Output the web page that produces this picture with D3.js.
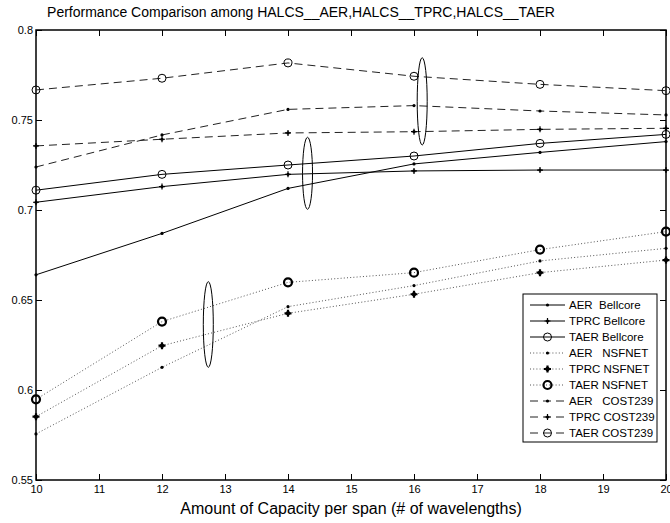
<!DOCTYPE html>
<html>
<head>
<meta charset="utf-8">
<script src="https://cdn.jsdelivr.net/npm/d3@7"></script>
<style>
  body { margin: 0; background: #fff; }
  text { font-family: "Liberation Sans", Arial, sans-serif; }
</style>
</head>
<body>
<svg id="chart" width="670" height="523"></svg>
<script>
// values
var capacity = [10, 12, 14, 16, 18, 20];
var aerBellcore  = [0.664, 0.687, 0.712, 0.7256, 0.732, 0.738];
var tprcBellcore = [0.7043, 0.713, 0.7198, 0.7217, 0.7222, 0.7222];
var taerBellcore = [0.711, 0.7198, 0.725, 0.730, 0.737, 0.742];
var aerNsfnet    = [0.5756, 0.6126, 0.6463, 0.658, 0.6717, 0.6787];
var tprcNsfnet   = [0.5852, 0.6246, 0.6426, 0.6532, 0.6652, 0.6722];
var taerNsfnet   = [0.5948, 0.638, 0.6598, 0.6652, 0.678, 0.688];
var aerCost      = [0.7239, 0.7417, 0.7559, 0.758, 0.755, 0.7528];
var tprcCost     = [0.7356, 0.7393, 0.7428, 0.7435, 0.7448, 0.7454];
var taerCost     = [0.7667, 0.7732, 0.7817, 0.7743, 0.7698, 0.7663];

var xTicks = [10, 11, 12, 13, 14, 15, 16, 17, 18, 19, 20];
var yTicks = [0.55, 0.6, 0.65, 0.7, 0.75, 0.8];
var yTickLabels = ["0.55", "0.6", "0.65", "0.7", "0.75", "0.8"];

// annotation ellipses: centre x, low y, high y (data units)
var ellipseX    = [12.735, 14.31, 16.13];
var ellipseLow  = [0.6126, 0.7004, 0.7361];
var ellipseHigh = [0.6602, 0.7404, 0.7846];

var series = [
  { name: "AER  Bellcore", values: aerBellcore,  style: "solid",  marker: "dot" },
  { name: "TPRC Bellcore", values: tprcBellcore, style: "solid",  marker: "plus" },
  { name: "TAER Bellcore", values: taerBellcore, style: "solid",  marker: "circle" },
  { name: "AER   NSFNET",  values: aerNsfnet,    style: "dotted", marker: "dot" },
  { name: "TPRC NSFNET",   values: tprcNsfnet,   style: "dotted", marker: "plusBold" },
  { name: "TAER NSFNET",   values: taerNsfnet,   style: "dotted", marker: "circleBold" },
  { name: "AER   COST239", values: aerCost,      style: "dashed", marker: "dot" },
  { name: "TPRC COST239",  values: tprcCost,     style: "dashed", marker: "plus" },
  { name: "TAER COST239",  values: taerCost,     style: "dashed", marker: "circle" }
];

var svg = d3.select("#chart");
var plotLeft = 36, plotRight = 666, plotTop = 30, plotBottom = 480;

var x = d3.scaleLinear().domain([10, 20]).range([plotLeft, plotRight]);
var y = d3.scaleLinear().domain([0.55, 0.8]).range([plotBottom, plotTop]);

// title
svg.append("text")
  .attr("x", 301).attr("y", 17)
  .attr("text-anchor", "middle")
  .attr("font-size", 14)
  .text("Performance Comparison among HALCS__AER,HALCS__TPRC,HALCS__TAER");

// axes (matlab style, ticks pointing inwards)
var tickLen = 6;
function labelFont(g) {
  g.selectAll("text").attr("font-size", 11).attr("fill", "#000")
    .attr("font-family", "Liberation Sans, Arial, sans-serif");
}
svg.append("g").attr("transform", "translate(0," + plotBottom + ")")
  .call(d3.axisBottom(x).tickValues(xTicks).tickSizeInner(-tickLen).tickSizeOuter(0).tickPadding(5).tickFormat(d3.format("d")))
  .call(labelFont);
svg.append("g").attr("transform", "translate(0," + plotTop + ")")
  .call(d3.axisTop(x).tickValues(xTicks).tickSizeInner(-tickLen).tickSizeOuter(0).tickFormat(""));
svg.append("g").attr("transform", "translate(" + plotLeft + ",0)")
  .call(d3.axisLeft(y).tickValues(yTicks).tickSizeInner(-tickLen).tickSizeOuter(0).tickPadding(3)
    .tickFormat(function (d, i) { return yTickLabels[i]; }))
  .call(labelFont);
svg.append("g").attr("transform", "translate(" + plotRight + ",0)")
  .call(d3.axisRight(y).tickValues(yTicks).tickSizeInner(-tickLen).tickSizeOuter(0).tickFormat(""));
svg.selectAll(".domain").remove();
svg.selectAll(".tick line").attr("stroke", "#000");

svg.append("rect")
  .attr("x", plotLeft).attr("y", plotTop)
  .attr("width", plotRight - plotLeft).attr("height", plotBottom - plotTop)
  .attr("fill", "none").attr("stroke", "#000").attr("stroke-width", 1.5);

// x label
svg.append("text")
  .attr("x", 351).attr("y", 514)
  .attr("text-anchor", "middle")
  .attr("font-size", 16)
  .text("Amount of Capacity per span (# of wavelengths)");

function lineStyle(sel, style) {
  if (style === "solid") {
    sel.attr("stroke", "#000").attr("stroke-width", 1);
  } else if (style === "dotted") {
    sel.attr("stroke", "#555").attr("stroke-width", 1).attr("stroke-dasharray", "1 2.2");
  } else {
    sel.attr("stroke", "#222").attr("stroke-width", 1).attr("stroke-dasharray", "8 5");
  }
}

function drawMarker(g, kind, cx, cy) {
  if (kind === "dot") {
    g.append("circle").attr("cx", cx).attr("cy", cy).attr("r", 1.6).attr("fill", "#000");
  } else if (kind === "plus" || kind === "plusBold") {
    var s = kind === "plus" ? 3 : 3.5;
    var w = kind === "plus" ? 1.2 : 2.2;
    g.append("path")
      .attr("d", "M" + (cx - s) + "," + cy + "H" + (cx + s) + "M" + cx + "," + (cy - s) + "V" + (cy + s))
      .attr("stroke", "#000").attr("stroke-width", w);
    g.append("circle").attr("cx", cx).attr("cy", cy).attr("r", kind === "plus" ? 1.6 : 2.2).attr("fill", "#000");
  } else if (kind === "circle") {
    g.append("circle").attr("cx", cx).attr("cy", cy).attr("r", 4)
      .attr("fill", "none").attr("stroke", "#000").attr("stroke-width", 1);
  } else {
    g.append("circle").attr("cx", cx).attr("cy", cy).attr("r", 4)
      .attr("fill", "none").attr("stroke", "#000").attr("stroke-width", 2.2);
  }
}

var line = d3.line()
  .x(function (d, i) { return x(capacity[i]); })
  .y(function (d) { return y(d); });

var plot = svg.append("g");
series.forEach(function (s) {
  plot.append("path")
    .datum(s.values)
    .attr("d", line)
    .attr("fill", "none")
    .call(lineStyle, s.style);
  var mg = plot.append("g");
  s.values.forEach(function (v, i) {
    drawMarker(mg, s.marker, x(capacity[i]), y(v));
  });
});

// ellipses
ellipseX.forEach(function (ex, i) {
  var cy = (y(ellipseLow[i]) + y(ellipseHigh[i])) / 2;
  var ry = (y(ellipseLow[i]) - y(ellipseHigh[i])) / 2;
  plot.append("ellipse")
    .attr("cx", x(ex)).attr("cy", cy)
    .attr("rx", 5).attr("ry", ry)
    .attr("fill", "none").attr("stroke", "#000").attr("stroke-width", 1);
});

// legend
var legend = svg.append("g");
legend.append("rect")
  .attr("x", 523).attr("y", 294)
  .attr("width", 134).attr("height", 148)
  .attr("fill", "#fff").attr("stroke", "#000").attr("stroke-width", 1);
series.forEach(function (s, i) {
  var ly = 305 + i * 16;
  legend.append("line")
    .attr("x1", 530).attr("x2", 565).attr("y1", ly).attr("y2", ly)
    .call(lineStyle, s.style);
  drawMarker(legend, s.marker, 547.5, ly);
  legend.append("text")
    .attr("x", 569).attr("y", ly + 4)
    .attr("font-size", 11.5)
    .attr("xml:space", "preserve")
    .style("white-space", "pre")
    .text(s.name);
});
</script>
</body>
</html>
